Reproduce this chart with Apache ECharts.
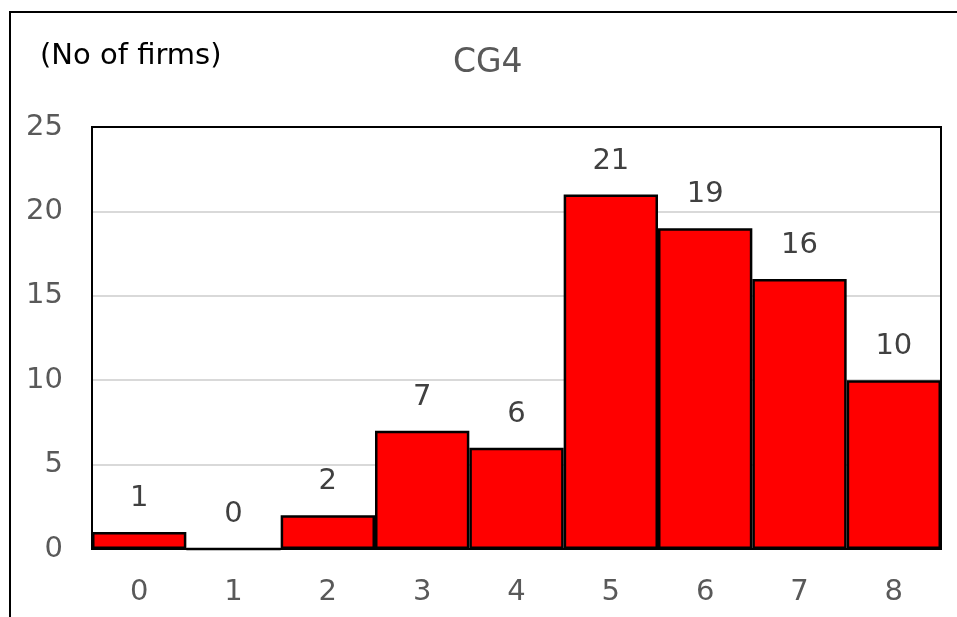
<!DOCTYPE html>
<html>
<head>
<meta charset="utf-8">
<script src="https://cdn.jsdelivr.net/npm/echarts@6/dist/echarts.min.js"></script>
<style>
  html, body { margin: 0; padding: 0; background: #fff; }
  #chart { width: 957px; height: 617px; }
</style>
</head>
<body>
<div id="chart"></div>
<script>
// Number of firms by CG4 score
const categories = ['0', '1', '2', '3', '4', '5', '6', '7', '8'];
const firmCounts = [1, 0, 2, 7, 6, 21, 19, 16, 10];
const yTicks = { min: 0, max: 25, interval: 5 };
const titleText = 'CG4';
const unitText = '(No of firms)';

const FONT = 'DejaVu Sans, Verdana, sans-serif';
const PLOT = { left: 92, top: 127, right: 941, bottom: 549 };
const chart = echarts.init(document.getElementById('chart'), null, { renderer: 'canvas' });

chart.setOption({
  animation: false,
  backgroundColor: '#fff',
  title: {
    text: titleText,
    left: 448,
    top: 42,
    textStyle: { fontFamily: FONT, fontSize: 33, fontWeight: 'normal', color: '#595959' }
  },
  graphic: [
    // frame edges along top and left
    { type: 'line', z: 100, shape: { x1: 9, y1: 12, x2: 957, y2: 12 }, style: { stroke: '#000', lineWidth: 2 } },
    { type: 'line', z: 100, shape: { x1: 10, y1: 12, x2: 10, y2: 617 }, style: { stroke: '#000', lineWidth: 2 } },
    // plot area outline, drawn over the gridlines
    {
      type: 'rect', z: 100,
      shape: { x: PLOT.left, y: PLOT.top, width: PLOT.right - PLOT.left, height: PLOT.bottom - PLOT.top },
      style: { fill: 'none', stroke: '#000', lineWidth: 2 }
    },
    {
      type: 'text', left: 40, top: 42, z: 100,
      style: { text: unitText, font: '29px ' + FONT, fill: '#000' }
    }
  ],
  grid: {
    left: PLOT.left, right: 957 - PLOT.right, top: PLOT.top, bottom: 617 - PLOT.bottom,
    show: false
  },
  xAxis: {
    type: 'category',
    data: categories,
    axisLine: { show: true, lineStyle: { color: '#000', width: 2 } },
    axisTick: { show: false },
    axisLabel: { fontFamily: FONT, fontSize: 29, color: '#595959', margin: 29 }
  },
  yAxis: {
    type: 'value',
    min: yTicks.min, max: yTicks.max, interval: yTicks.interval,
    axisLine: { show: false },
    axisTick: { show: false },
    splitLine: { lineStyle: { color: '#d9d9d9', width: 2 } },
    axisLabel: { fontFamily: FONT, fontSize: 29, color: '#595959', margin: 29 }
  },
  series: [{
    type: 'bar',
    data: firmCounts,
    barCategoryGap: '0%',
    itemStyle: { color: '#ff0000', borderColor: '#000', borderWidth: 2.5 },
    label: {
      show: true, position: 'top', distance: 19,
      fontFamily: FONT, fontSize: 29, color: '#404040'
    }
  }]
});
</script>
</body>
</html>
